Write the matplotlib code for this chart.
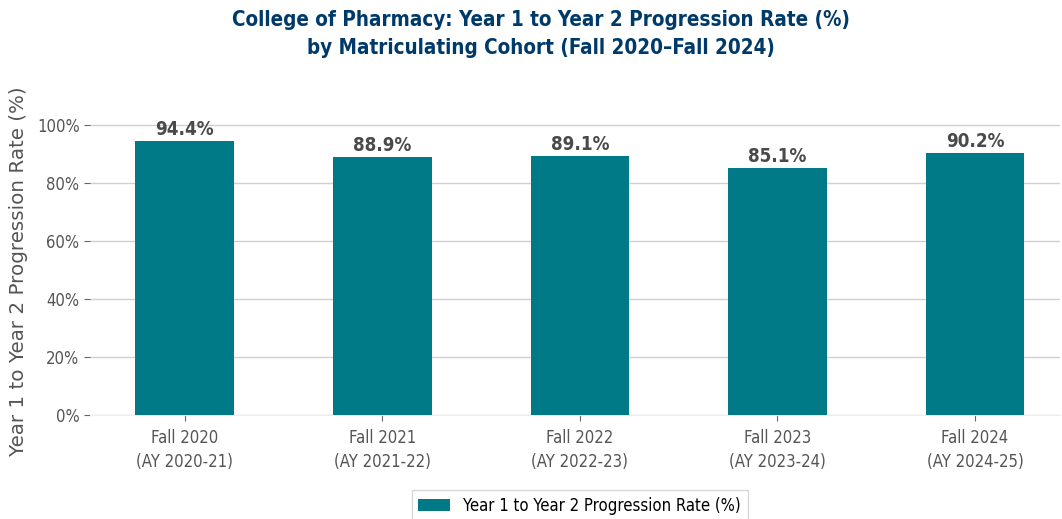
import matplotlib.pyplot as plt
import numpy as np
from matplotlib.ticker import PercentFormatter

plt.rcParams['font.family'] = 'DejaVu Sans'
plt.rcParams['font.stretch'] = 'condensed'

cohorts = ['Fall 2020\n(AY 2020-21)', 'Fall 2021\n(AY 2021-22)', 'Fall 2022\n(AY 2022-23)',
           'Fall 2023\n(AY 2023-24)', 'Fall 2024\n(AY 2024-25)']
rates = [94.4, 88.9, 89.1, 85.1, 90.2]
series_name = 'Year 1 to Year 2 Progression Rate (%)'

fig = plt.figure(figsize=(10.62, 5.19), dpi=100)
ax = fig.add_axes([90 / 1062, 104 / 519, 970 / 1062, 325 / 519])

x = np.arange(len(cohorts))
bars = ax.bar(x, rates, width=0.5, color='#007A87', label=series_name, zorder=3)

for b in bars:
    ax.annotate(f'{b.get_height():.1f}%', xy=(b.get_x() + b.get_width() / 2, b.get_height()),
                xytext=(0, 1.5), textcoords='offset points', ha='center', va='bottom',
                fontsize=13.5, fontweight='bold', color='#4a4a4a')

ax.set_xlim(-0.48, 4.43)
ax.set_ylim(0, 112)
ax.set_yticks(np.arange(0, 101, 20))
ax.yaxis.set_major_formatter(PercentFormatter(decimals=0))
ax.set_xticks(x)
ax.set_xticklabels(cohorts, linespacing=1.45)
ax.tick_params(axis='both', labelsize=12, colors='#555555', length=4, color='#666666')
ax.tick_params(axis='x', pad=6)
ax.grid(axis='y', color='#d0d0d0', linewidth=1, zorder=0)
for s in ['top', 'right', 'left']:
    ax.spines[s].set_visible(False)
ax.spines['bottom'].set_color('#eeeeee')

ax.set_ylabel('Year 1 to Year 2 Progression Rate (%)', fontsize=14.3, color='#555555',
              fontstretch='normal')
ax.yaxis.set_label_coords(-0.064, 0.443)
fig.suptitle('College of Pharmacy: Year 1 to Year 2 Progression Rate (%)\n'
             'by Matriculating Cohort (Fall 2020\u2013Fall 2024)',
             x=541 / 1062, y=0.98, fontsize=14.8, fontweight='bold', color='#003A6B',
             linespacing=1.45)

ax.legend(loc='upper center', bbox_to_anchor=(0.505, -0.205), fontsize=12, frameon=True,
          edgecolor='#cccccc', fancybox=False, handlelength=1.9)

plt.savefig('out.png', dpi=100)
